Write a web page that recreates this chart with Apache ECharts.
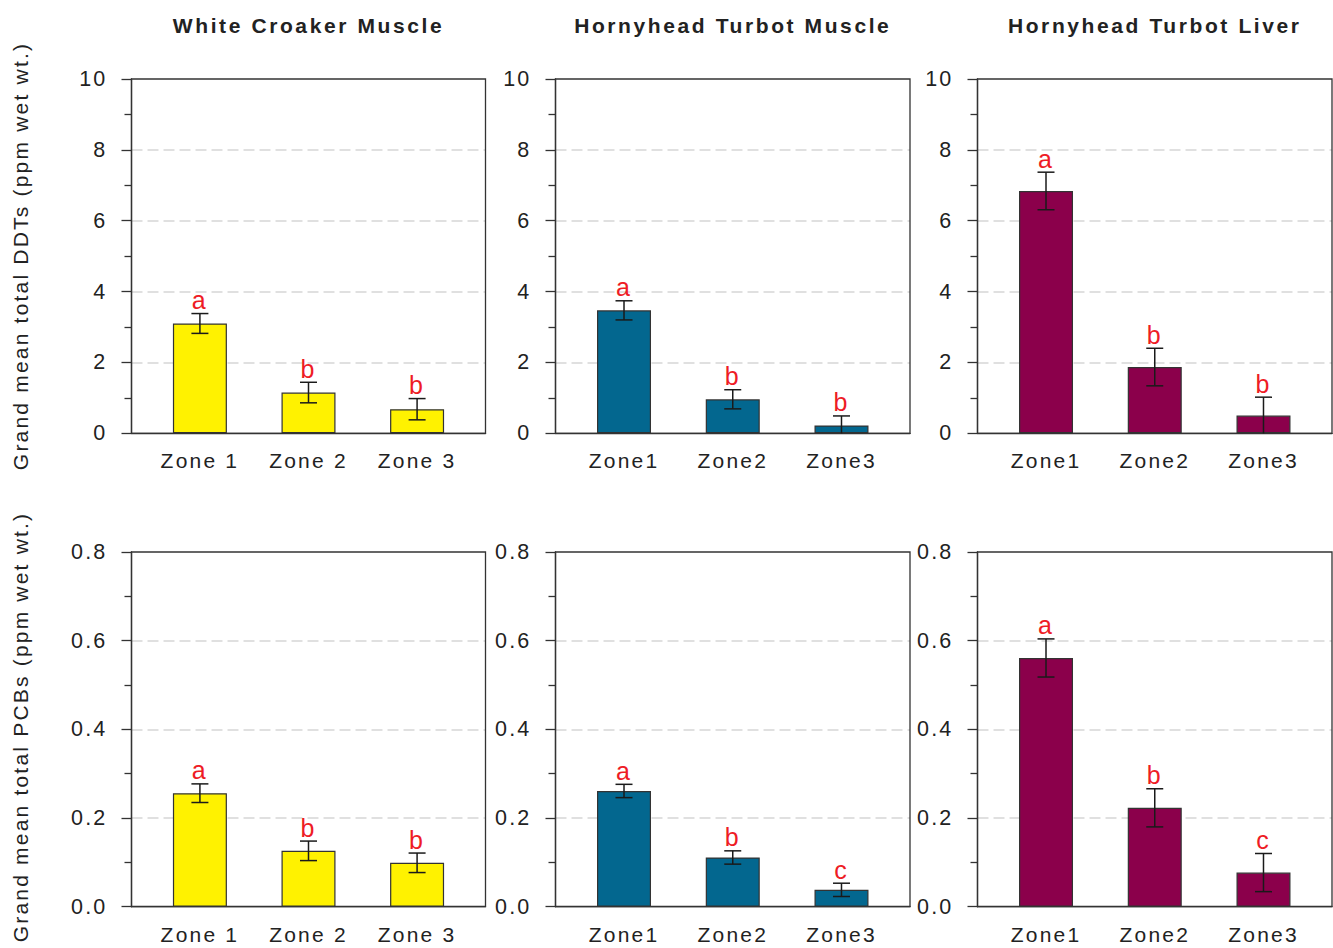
<!DOCTYPE html>
<html>
<head>
<meta charset="utf-8">
<script src="https://cdn.jsdelivr.net/npm/echarts@6/dist/echarts.min.js"></script>
<style>
  html, body { margin: 0; padding: 0; background: #ffffff; }
  #chart { width: 1333px; height: 948px; }
  #chart text { letter-spacing: 2.2px; }
  #chart text[style*="bold"] { letter-spacing: 2.6px; }
</style>
</head>
<body>
<div id="chart"></div>
<script>
// ---------- data ----------
const zoneLabelsCroaker = ['Zone 1', 'Zone 2', 'Zone 3'];
const zoneLabelsTurbot = ['Zone1', 'Zone2', 'Zone3'];
const zonePositions = [1, 2, 3];
const panelTitles = ['White Croaker Muscle', 'Hornyhead Turbot Muscle', 'Hornyhead Turbot Liver'];
const ddtAxisTitle = 'Grand mean total DDTs (ppm wet wt.)';
const pcbAxisTitle = 'Grand mean total PCBs (ppm wet wt.)';
const ddtAxisMax = 10, ddtAxisStep = 2;
const pcbAxisMax = 0.8, pcbAxisStep = 0.2;

const ddtCroakerMuscle = [3.10, 1.15, 0.68];
const ddtCroakerMuscleErr = [0.28, 0.29, 0.30];
const ddtCroakerMuscleLetters = ['a', 'b', 'b'];

const ddtTurbotMuscle = [3.47, 0.96, 0.22];
const ddtTurbotMuscleErr = [0.27, 0.27, 0.27];
const ddtTurbotMuscleLetters = ['a', 'b', 'b'];

const ddtTurbotLiver = [6.84, 1.87, 0.50];
const ddtTurbotLiverErr = [0.53, 0.53, 0.52];
const ddtTurbotLiverLetters = ['a', 'b', 'b'];

const pcbCroakerMuscle = [0.256, 0.126, 0.099];
const pcbCroakerMuscleErr = [0.021, 0.022, 0.022];
const pcbCroakerMuscleLetters = ['a', 'b', 'b'];

const pcbTurbotMuscle = [0.261, 0.111, 0.038];
const pcbTurbotMuscleErr = [0.015, 0.015, 0.015];
const pcbTurbotMuscleLetters = ['a', 'b', 'c'];

const pcbTurbotLiver = [0.561, 0.223, 0.077];
const pcbTurbotLiverErr = [0.043, 0.043, 0.043];
const pcbTurbotLiverLetters = ['a', 'b', 'c'];

// ---------- styling ----------
const FONT = '"Liberation Sans", Arial, sans-serif';
const TEXT = '#222222';
const AXIS = '#333333';
const colYellow = '#fff200';
const colBlue = '#03678f';
const colMaroon = '#8b004b';
const colLetter = '#ee1c25';

const panels = [
  { row: 0, col: 0, vals: ddtCroakerMuscle, err: ddtCroakerMuscleErr, letters: ddtCroakerMuscleLetters, color: colYellow, zones: zoneLabelsCroaker },
  { row: 0, col: 1, vals: ddtTurbotMuscle, err: ddtTurbotMuscleErr, letters: ddtTurbotMuscleLetters, color: colBlue, zones: zoneLabelsTurbot },
  { row: 0, col: 2, vals: ddtTurbotLiver, err: ddtTurbotLiverErr, letters: ddtTurbotLiverLetters, color: colMaroon, zones: zoneLabelsTurbot },
  { row: 1, col: 0, vals: pcbCroakerMuscle, err: pcbCroakerMuscleErr, letters: pcbCroakerMuscleLetters, color: colYellow, zones: zoneLabelsCroaker },
  { row: 1, col: 1, vals: pcbTurbotMuscle, err: pcbTurbotMuscleErr, letters: pcbTurbotMuscleLetters, color: colBlue, zones: zoneLabelsTurbot },
  { row: 1, col: 2, vals: pcbTurbotLiver, err: pcbTurbotLiverErr, letters: pcbTurbotLiverLetters, color: colMaroon, zones: zoneLabelsTurbot }
];

const colLeft = [131.5, 555.5, 977.5];
const colWidth = [354, 354.5, 354.5];
const rowTop = [79, 552];
const rowHeight = [354.3, 354.7];

const grids = [], xAxes = [], yAxes = [], series = [];

panels.forEach((p, i) => {
  grids.push({
    left: colLeft[p.col], top: rowTop[p.row],
    width: colWidth[p.col], height: rowHeight[p.row],
    show: true, borderColor: AXIS, borderWidth: 1.3, backgroundColor: 'transparent', z: 3
  });
  const zones = p.zones;
  xAxes.push({
    type: 'value', gridIndex: i, min: 0.37, max: 3.63,
    axisLine: { show: true, onZero: false, lineStyle: { color: AXIS, width: 1.3 } },
    axisTick: { show: false },
    splitLine: { show: false },
    axisLabel: {
      customValues: zonePositions,
      formatter: v => zones[Math.round(v) - 1] || '',
      color: TEXT, fontFamily: FONT, fontSize: 21, margin: 17
    }
  });
  const isDDT = p.row === 0;
  yAxes.push({
    type: 'value', gridIndex: i, min: 0,
    max: isDDT ? ddtAxisMax : pcbAxisMax,
    interval: isDDT ? ddtAxisStep : pcbAxisStep,
    axisLine: { show: true, lineStyle: { color: AXIS, width: 1.3 } },
    axisTick: { show: true, inside: false, length: 10, lineStyle: { color: AXIS, width: 1.3 } },
    minorTick: { show: true, splitNumber: 2, length: 7, lineStyle: { color: AXIS, width: 1.3 } },
    splitLine: { show: true, showMinLine: false, showMaxLine: false, lineStyle: { color: '#d6d6d6', width: 1.5, type: [11, 5] } },
    axisLabel: {
      formatter: v => isDDT ? String(Math.round(v)) : v.toFixed(1),
      color: TEXT, fontFamily: FONT, fontSize: 21.5, margin: 24
    }
  });
  series.push({
    type: 'bar', xAxisIndex: i, yAxisIndex: i,
    barWidth: 54,
    data: p.vals.map((v, k) => [zonePositions[k], v]),
    itemStyle: { color: p.color, borderColor: AXIS, borderWidth: 1.2 },
    silent: true, animation: false
  });
  series.push({
    type: 'custom', xAxisIndex: i, yAxisIndex: i,
    clip: false, silent: true, animation: false, z: 5,
    data: p.vals.map((v, k) => [zonePositions[k], v - p.err[k], v + p.err[k]]),
    renderItem: (params, api) => {
      const x = api.value(0);
      const lo = api.value(1), hi = api.value(2);
      const pHi = api.coord([x, hi]);
      const pLo = api.coord([x, Math.max(lo, 0)]);
      const half = 8.5;
      const children = [
        { type: 'line', shape: { x1: pHi[0], y1: pHi[1], x2: pLo[0], y2: pLo[1] }, style: { stroke: '#1a1a1a', lineWidth: 1.5 } },
        { type: 'line', shape: { x1: pHi[0] - half, y1: pHi[1], x2: pHi[0] + half, y2: pHi[1] }, style: { stroke: '#1a1a1a', lineWidth: 1.5 } }
      ];
      if (lo > 0) {
        children.push({ type: 'line', shape: { x1: pLo[0] - half, y1: pLo[1], x2: pLo[0] + half, y2: pLo[1] }, style: { stroke: '#1a1a1a', lineWidth: 1.5 } });
      }
      children.push({
        type: 'text', x: pHi[0], y: pHi[1] - 1,
        style: { text: p.letters[params.dataIndex], fill: colLetter, font: '25px ' + FONT, textAlign: 'center', textVerticalAlign: 'bottom' }
      });
      return { type: 'group', children };
    }
  });
});

const graphics = [];
panelTitles.forEach((t, c) => {
  graphics.push({
    type: 'text', x: colLeft[c] + colWidth[c] / 2, y: 25,
    style: { text: t, fill: TEXT, font: 'bold 21px ' + FONT, textAlign: 'center', textVerticalAlign: 'middle' }
  });
});
[ddtAxisTitle, pcbAxisTitle].forEach((t, r) => {
  graphics.push({
    type: 'text', x: 20, y: r === 0 ? 256 : 727, rotation: Math.PI / 2,
    style: { text: t, fill: TEXT, font: '21px ' + FONT, textAlign: 'center', textVerticalAlign: 'middle' }
  });
});

const chart = echarts.init(document.getElementById('chart'), null, { renderer: 'svg' });
chart.setOption({
  backgroundColor: '#ffffff',
  animation: false,
  grid: grids,
  xAxis: xAxes,
  yAxis: yAxes,
  series: series,
  graphic: graphics
});
</script>
</body>
</html>
